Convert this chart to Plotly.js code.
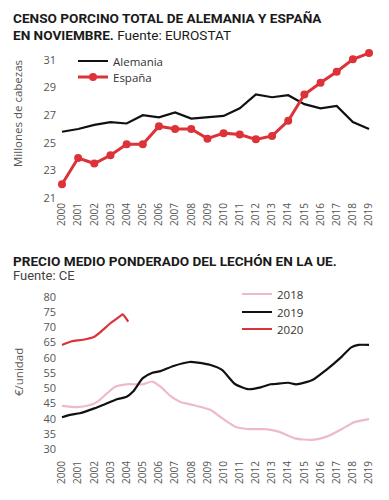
<!DOCTYPE html>
<html><head><meta charset="utf-8">
<script src="https://cdn.plot.ly/plotly-3.0.1.min.js"></script>
<style>body{margin:0;background:#fff}#c{width:389px;height:500px}</style>
</head><body><div id="c"></div>
<script>
// ---- Data: top chart (millions of pigs, November census) ----
const years = [2000,2001,2002,2003,2004,2005,2006,2007,2008,2009,2010,2011,2012,2013,2014,2015,2016,2017,2018,2019];
const yearLabels = years.map(String);
const alemania = [25.8,26.0,26.3,26.5,26.4,27.0,26.85,27.2,26.75,26.85,26.95,27.5,28.5,28.3,28.45,27.8,27.5,27.67,26.5,26.0];
const espana   = [22.0,23.9,23.5,24.1,24.9,24.9,26.2,26.0,26.0,25.3,25.7,25.6,25.25,25.5,26.6,28.5,29.35,30.15,31.05,31.5];
const topTicks = [21,23,25,27,29,31];

// ---- Data: bottom chart (€/unidad) ----
const x2018 = [2000,2000.9,2001.75,2002.2,2002.8,2003.3,2004.0,2005.0,2005.6,2006.1,2006.7,2007.3,2008.1,2009.2,2009.9,2010.8,2011.65,2012.6,2013.4,2014.4,2015.5,2016.5,2017.3,2018.1,2019.0];
const v2018 = [44.2,43.8,44.5,45.6,48.4,50.5,51.3,51.3,52.2,50.5,47.5,45.6,44.5,42.9,40.2,37.2,36.6,36.6,35.8,33.6,33.1,34.4,36.6,38.9,39.9];
const x2019 = [2000,2000.5,2001.1,2002.0,2002.8,2003.4,2004.0,2004.4,2005.0,2005.6,2006.1,2006.9,2007.9,2008.4,2009.2,2009.9,2010.7,2011.5,2012.3,2012.9,2013.2,2014.0,2014.5,2015.5,2016.3,2017.3,2017.9,2018.35,2019.0];
const v2019 = [40.5,41.3,41.8,43.4,45.1,46.4,47.2,48.9,53.3,55.1,55.6,57.3,58.6,58.4,57.6,56.0,51.4,49.7,50.3,51.3,51.4,51.8,51.3,52.7,55.8,60.3,63.4,64.2,64.2];
const x2020 = [2000,2000.6,2001.3,2002.0,2002.4,2003.0,2003.6,2003.75,2004.1];
const v2020 = [64.2,65.4,65.9,66.9,68.5,71.3,73.6,74.2,71.8];
const botTicks = [30,35,40,45,50,55,60,65,70,75,80];

const W = 389, H = 500;
const px = v => v / W;           // x pixel -> paper
const py = v => 1 - v / H;       // y pixel -> paper
const FONT = "Open Sans, sans-serif";
const TCOL = "#555";

const traces = [
  {x: years, y: alemania, name: "Alemania", type: "scatter", mode: "lines",
   line: {color: "#111", width: 2.2}, xaxis: "x", yaxis: "y", legend: "legend", cliponaxis: false},
  {x: years, y: espana, name: "España", type: "scatter", mode: "lines+markers",
   line: {color: "#dc323a", width: 3}, marker: {color: "#dc323a", size: 8},
   xaxis: "x", yaxis: "y", legend: "legend2", cliponaxis: false},
  {x: x2018, y: v2018, name: "2018", type: "scatter", mode: "lines",
   line: {color: "#efb9cc", width: 2.2, shape: "spline", smoothing: 0.6}, xaxis: "x2", yaxis: "y2", legend: "legend3", cliponaxis: false},
  {x: x2019, y: v2019, name: "2019", type: "scatter", mode: "lines",
   line: {color: "#111", width: 2.2, shape: "spline", smoothing: 0.6}, xaxis: "x2", yaxis: "y2", legend: "legend4", cliponaxis: false},
  {x: x2020, y: v2020, name: "2020", type: "scatter", mode: "lines",
   line: {color: "#d9333b", width: 2.2, shape: "spline", smoothing: 0.6}, xaxis: "x2", yaxis: "y2", legend: "legend5", cliponaxis: false}
];

const xr = [1999.691, 2019.679];
const axX = {domain: [px(57), px(380)], range: xr, tickvals: years, ticktext: yearLabels,
  tickangle: -90, showgrid: false, zeroline: false, showline: false, ticks: "",
  tickfont: {family: FONT, size: 10, color: TCOL}, fixedrange: true};
const axY = {showgrid: false, zeroline: false, showline: false, ticks: "",
  tickfont: {family: FONT, size: 11, color: TCOL}, fixedrange: true};

function leg(xp, yp) {
  return {x: px(xp), y: py(yp), xanchor: "left", yanchor: "middle", bgcolor: "rgba(0,0,0,0)",
    font: {family: FONT, size: 11.5, color: "#333"}, borderwidth: 0, itemwidth: 30};
}

const TF = {family: "Roboto, sans-serif", size: 13.6, color: "#1a1a1a"};
const layout = {
  width: W, height: H, margin: {l: 0, r: 0, t: 0, b: 0},
  paper_bgcolor: "#fff", plot_bgcolor: "#fff", showlegend: true,
  xaxis: Object.assign({}, axX, {anchor: "y"}),
  yaxis: Object.assign({}, axY, {domain: [py(200), py(52)], range: [20.855, 31.58], tickvals: topTicks, anchor: "x"}),
  xaxis2: Object.assign({}, axX, {anchor: "y2"}),
  yaxis2: Object.assign({}, axY, {domain: [py(458), py(290)], range: [27.15, 82.19], tickvals: botTicks, anchor: "x2"}),
  legend: leg(73, 61),
  legend2: leg(73, 77),
  legend3: leg(237, 294),
  legend4: leg(237, 312),
  legend5: leg(237, 329),
  annotations: [
    {text: "<b>CENSO PORCINO TOTAL DE ALEMANIA Y ESPAÑA</b>", xref: "paper", yref: "paper", x: px(11), y: py(8),
     xanchor: "left", yanchor: "top", showarrow: false, font: TF},
    {text: "<b>EN NOVIEMBRE.</b> Fuente: EUROSTAT", xref: "paper", yref: "paper", x: px(11), y: py(25),
     xanchor: "left", yanchor: "top", showarrow: false, font: TF},
    {text: "<b>PRECIO MEDIO PONDERADO DEL LECHÓN EN LA UE.</b>", xref: "paper", yref: "paper", x: px(11), y: py(251),
     xanchor: "left", yanchor: "top", showarrow: false, font: TF},
    {text: "Fuente: CE", xref: "paper", yref: "paper", x: px(11), y: py(266),
     xanchor: "left", yanchor: "top", showarrow: false, font: {family: "Roboto, sans-serif", size: 13, color: "#444"}},
    {text: "Millones de cabezas", xref: "paper", yref: "paper", x: px(18), y: py(114), textangle: -90,
     xanchor: "center", yanchor: "middle", showarrow: false, font: {family: FONT, size: 11.5, color: TCOL}},
    {text: "€/unidad", xref: "paper", yref: "paper", x: px(18), y: py(372), textangle: -90,
     xanchor: "center", yanchor: "middle", showarrow: false, font: {family: FONT, size: 11.5, color: TCOL}}
  ]
};

Plotly.newPlot("c", traces, layout, {displayModeBar: false, staticPlot: true});
</script></body></html>
